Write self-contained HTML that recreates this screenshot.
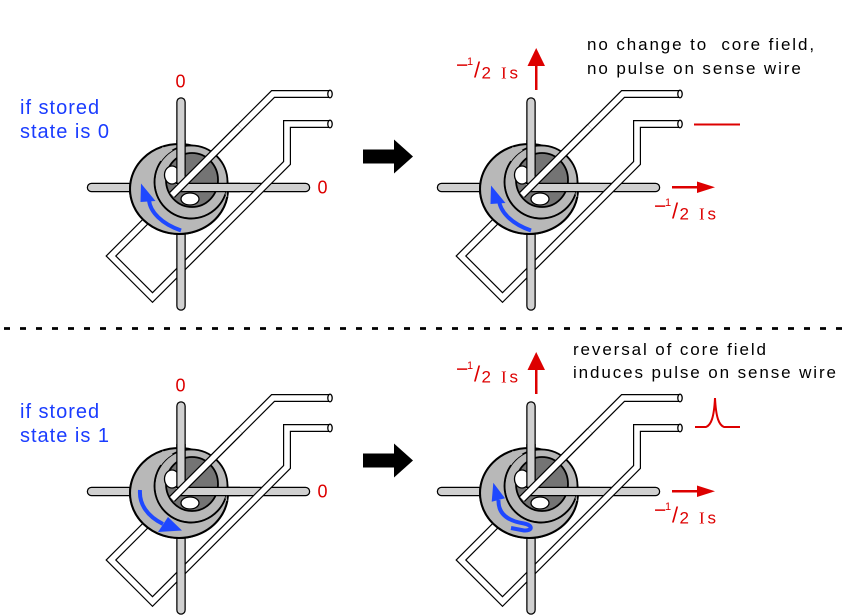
<!DOCTYPE html>
<html><head><meta charset="utf-8"><style>
html,body{margin:0;padding:0;background:#fff;}
svg{display:block;}
text{font-family:"Liberation Sans",sans-serif;}
</style></head><body>
<svg width="848" height="616" viewBox="0 0 848 616" xmlns="http://www.w3.org/2000/svg">
<defs>
<g id="fig">
  <g fill="none">
    <line x1="91.5" y1="187.5" x2="305.5" y2="187.5" stroke="#000" stroke-width="9.5" stroke-linecap="round"/>
    <line x1="91.5" y1="187.5" x2="305.5" y2="187.5" stroke="#d0d0d0" stroke-width="7" stroke-linecap="round"/>
    <path d="M330 94 L273 94 L111 256 L152.5 297.5 L287 163 L287 124 L330 124" stroke="#000" stroke-width="8" stroke-linejoin="miter"/>
    <path d="M330 94 L273 94 L111 256 L152.5 297.5 L287 163 L287 124 L330 124" stroke="#fff" stroke-width="5.6" stroke-linejoin="miter"/>
    <line x1="181" y1="102" x2="181" y2="306" stroke="#000" stroke-width="9.5" stroke-linecap="round"/>
    <line x1="181" y1="102" x2="181" y2="306" stroke="#d0d0d0" stroke-width="7" stroke-linecap="round"/>
  </g>
  <ellipse cx="330" cy="94" rx="2.2" ry="3.8" fill="#fff" stroke="#000" stroke-width="1.3"/>
  <ellipse cx="330" cy="124" rx="2.2" ry="3.8" fill="#fff" stroke="#000" stroke-width="1.3"/>
  <!-- core body -->
  <ellipse cx="179" cy="189" rx="49" ry="45" fill="#b8b8b8" stroke="#000" stroke-width="2"/>
  <circle cx="191" cy="182" r="36.5" fill="#b8b8b8" stroke="#000" stroke-width="1.8"/>
  <ellipse cx="192" cy="180" rx="26" ry="27" fill="#747474" stroke="#000" stroke-width="1.8"/>
  <ellipse cx="172" cy="175" rx="7.5" ry="9" fill="#fff" stroke="#000" stroke-width="1.3"/>
  <ellipse cx="190" cy="199" rx="9" ry="6" fill="#fff" stroke="#000" stroke-width="1.3"/>
  <!-- wire segments passing in front of ring -->
  <g fill="none">
    <line x1="181" y1="140" x2="181" y2="188" stroke="#000" stroke-width="9.5"/>
    <line x1="181" y1="140" x2="181" y2="188" stroke="#d0d0d0" stroke-width="7"/>
    <line x1="176" y1="187.5" x2="240" y2="187.5" stroke="#000" stroke-width="9.5"/>
    <line x1="176" y1="187.5" x2="240" y2="187.5" stroke="#d0d0d0" stroke-width="7"/>
    <path d="M240 127 L172 195" stroke="#000" stroke-width="8"/>
    <path d="M240 127 L172 195" stroke="#fff" stroke-width="5.6"/>
  </g>
  <!-- front face crescent -->
  <path d="M162.2 146.7 A49 45 0 1 0 227.3 196.8 L226.3 191.4 A36.5 36.5 0 1 1 172.75 150.4 Z" fill="#b8b8b8"/>
  <path d="M162.2 146.7 A49 45 0 1 0 227.3 196.8" fill="none" stroke="#000" stroke-width="2"/>
  <path d="M161.1 161.1 A36.5 36.5 0 1 0 225.3 194.5" fill="none" stroke="#000" stroke-width="1.8"/>
</g>
<g id="lbl" fill="#dd0000">
  <text x="456" y="72" font-size="21">−</text>
  <text x="467" y="65" font-size="11">1</text>
  <text x="474" y="77.5" font-size="22">/</text>
  <text x="481.5" y="78.5" font-size="17">2</text>
  <text x="501" y="78.5" font-size="17" style="font-family:'Liberation Serif',serif">I</text>
  <text x="509.5" y="78.5" font-size="17">s</text>
</g>
<g id="redarrows" fill="#dd0000">
  <rect x="535" y="62" width="2.5" height="28"/>
  <polygon points="536.2,48 545,66 527.5,66"/>
  <rect x="672" y="186" width="26" height="2.5"/>
  <polygon points="715,187.2 697,181.5 697,193"/>
</g>
<g id="bigarrow" fill="#000">
  <rect x="363" y="149.5" width="33" height="14"/>
  <polygon points="394,139.5 413,156.5 394,173.5"/>
</g>
</defs>

<!-- figures -->
<use href="#fig"/>
<use href="#fig" transform="translate(350,0)"/>
<use href="#fig" transform="translate(0,304)"/>
<use href="#fig" transform="translate(350,304)"/>

<!-- blue arrows -->
<g fill="none" stroke="#1f48ff" stroke-width="4">
  <path d="M149 200 C150 212, 162 224, 181 230.5"/>
  <path d="M499 200 C500 212, 512 224, 531 230.5"/>
  <path d="M140 490 C139 504, 147 516, 163 524"/>
  <path d="M498.5 500 C498 514, 508 521, 524 523.5 C533 525, 533 531, 524 530.5 L511 528"/>
</g>
<g fill="#1f48ff">
  <polygon points="141,183.5 140.5,202 155.5,201"/>
  <polygon points="491,185.5 490.5,204 505.5,203"/>
  <polygon points="182,530.5 168,517 158,532"/>
  <polygon points="493.3,482.7 491.7,501.7 505,498.3"/>
</g>

<!-- big black arrows -->
<use href="#bigarrow"/>
<use href="#bigarrow" transform="translate(0,304)"/>

<!-- red arrows and labels -->
<use href="#redarrows"/>
<use href="#redarrows" transform="translate(0,304)"/>
<use href="#lbl"/>
<use href="#lbl" transform="translate(198,141)"/>
<use href="#lbl" transform="translate(0,304)"/>
<use href="#lbl" transform="translate(198,445)"/>

<!-- red zeros -->
<g fill="#dd0000" font-size="18">
  <text x="175.5" y="87.3">0</text>
  <text x="317.5" y="193.3">0</text>
  <text x="175.5" y="391.3">0</text>
  <text x="317.5" y="497.3">0</text>
</g>

<!-- sense outputs -->
<line x1="694" y1="124.5" x2="740" y2="124.5" stroke="#dd0000" stroke-width="2"/>
<path d="M695 427 L706 427 C711 425, 714 418, 715 398 C716 418, 719 425, 724 427 L740 427" fill="none" stroke="#dd0000" stroke-width="2"/>

<!-- left texts -->
<g fill="#1a3cff" font-size="20" letter-spacing="1">
  <text x="20" y="114">if stored</text>
  <text x="20" y="138">state is 0</text>
  <text x="20" y="418">if stored</text>
  <text x="20" y="442">state is 1</text>
</g>

<!-- right texts -->
<g fill="#000" font-size="17" letter-spacing="1.9">
  <text x="587" y="50" xml:space="preserve" style="white-space:pre">no change to  core field,</text>
  <text x="587" y="74">no pulse on sense wire</text>
  <text x="573" y="355">reversal of core field</text>
  <text x="573" y="378">induces pulse on sense wire</text>
</g>

<!-- dashed separator -->
<line x1="4" y1="328.5" x2="848" y2="328.5" stroke="#000" stroke-width="2.7" stroke-dasharray="6 10"/>
</svg>
</body></html>
